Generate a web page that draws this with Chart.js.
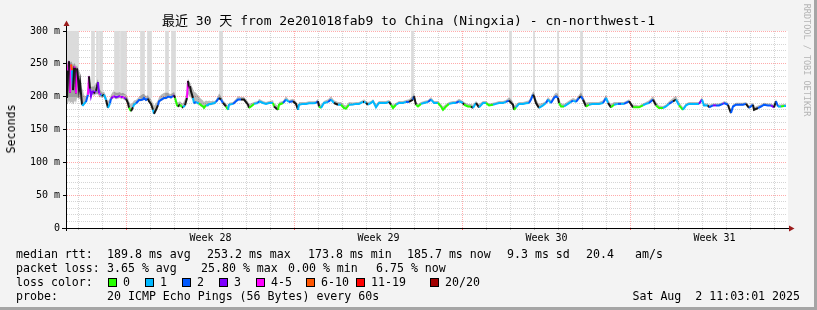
<!DOCTYPE html>
<html><head><meta charset="utf-8">
<script src="https://cdn.jsdelivr.net/npm/chart.js@4.4.0/dist/chart.umd.min.js"></script>
<style>
html,body{margin:0;padding:0;background:#f3f3f3;}
#frame{position:relative;width:817px;height:310px;background:#f3f3f3;overflow:hidden;}
#c{position:absolute;left:0;top:0;}
.t{position:absolute;font-family:"DejaVu Sans Mono","Noto Sans CJK SC",monospace;font-size:11.6px;line-height:14px;height:14px;white-space:pre;color:#000;}
.box{position:absolute;top:278px;width:7px;height:7px;border:1px solid #000;}
#shadeR{position:absolute;right:0;top:0;width:3px;height:310px;background:#a5a5a5;}
#shadeB{position:absolute;left:0;bottom:0;width:817px;height:3px;background:#a5a5a5;}
</style></head>
<body>
<div id="frame">
<canvas id="c" width="817" height="310"></canvas>
<div class="t" style="left:0;width:817px;text-align:center;top:13px;font-size:13px;line-height:16px;height:16px">最近 30 天 from 2e201018fab9 to China (Ningxia) - cn-northwest-1</div>
<div class="t" style="left:11px;top:129px;transform:translate(-50%,-50%) rotate(-90deg);">Seconds</div>
<div class="t" style="left:807px;top:60px;font-size:8.5px;line-height:10px;height:10px;color:#b4b4b4;transform:translate(-50%,-50%) rotate(90deg);">RRDTOOL / TOBI OETIKER</div>

<div class="t" style="left:16px;top:247px">median rtt:</div>
<div class="t" style="left:107px;top:247px">189.8 ms avg</div>
<div class="t" style="left:207px;top:247px">253.2 ms max</div>
<div class="t" style="left:308px;top:247px">173.8 ms min</div>
<div class="t" style="left:407px;top:247px">185.7 ms now</div>
<div class="t" style="left:507px;top:247px">9.3 ms sd</div>
<div class="t" style="left:586px;top:247px">20.4</div>
<div class="t" style="left:635px;top:247px">am/s</div>

<div class="t" style="left:16px;top:261px">packet loss:</div>
<div class="t" style="left:107px;top:261px">3.65 % avg</div>
<div class="t" style="left:201px;top:261px">25.80 % max</div>
<div class="t" style="left:288px;top:261px">0.00 % min</div>
<div class="t" style="left:376px;top:261px">6.75 % now</div>

<div class="t" style="left:16px;top:275px">loss color:</div>
<span class="box" style="left:108px;background:#26ff00"></span><div class="t" style="left:123px;top:275px">0</div>
<span class="box" style="left:145px;background:#00b8ff"></span><div class="t" style="left:160px;top:275px">1</div>
<span class="box" style="left:182px;background:#0059ff"></span><div class="t" style="left:197px;top:275px">2</div>
<span class="box" style="left:219px;background:#7e00ff"></span><div class="t" style="left:234px;top:275px">3</div>
<span class="box" style="left:256px;background:#ff00ff"></span><div class="t" style="left:271px;top:275px">4-5</div>
<span class="box" style="left:306px;background:#ff5500"></span><div class="t" style="left:321px;top:275px">6-10</div>
<span class="box" style="left:356px;background:#ff0000"></span><div class="t" style="left:371px;top:275px">11-19</div>
<span class="box" style="left:430px;background:#a10000"></span><div class="t" style="left:445px;top:275px">20/20</div>

<div class="t" style="left:16px;top:289px">probe:</div>
<div class="t" style="left:107px;top:289px">20 ICMP Echo Pings (56 Bytes) every 60s</div>
<div class="t" style="right:17px;top:289px">Sat Aug  2 11:03:01 2025</div>
<div id="shadeR"></div><div id="shadeB"></div>
</div>
<script>
// hours since start of the 30-day window (1 px per hour)
const hours = [
 0,1,2,3,4,5,6,7,8,9,
 10,11,12,13,14,15,16,17,18,19,
 20,21,22,23,24,25,26,27,28,29,
 30,31,32,33,34,35,37,39,41,43,
 44,46,47,49,51,53,54,56,57,59,
 61,62,64,66,67,69,71,72,74,76,
 77,79,81,82,84,86,87,89,91,92,
 94,96,97,99,101,102,104,106,107,108,
 110,111,113,115,116,118,120,121,122,123,
 124,126,127,129,131,132,134,136,137,139,
 141,142,144,146,147,149,
 152,154,156,159,161,162,166,169,171,174,
 177,181,182,184,187,191,192,196,199,202,
 206,207,211,212,216,219,222,226,229,231,
 232,236,239,242,246,249,251,252,254,257,
 261,264,267,271,274,277,279,282,286,289,
 292,296,297,299,301,304,306,309,312,316,
 319,322,324,326,329,332,336,339,342,346,
 347,349,351,354,357,361,364,367,371,374,
 376,379,382,386,389,392,396,397,401,404,
 406,409,412,416,419,422,426,429,432,436,
 439,442,446,447,449,452,456,459,462,464,
 466,467,469,472,476,479,481,484,487,489,
 491,492,494,497,501,504,506,509,512,514,
 516,519,522,526,529,532,536,539,541,544,
 547,551,554,557,561,562,566,569,572,576,
 579,582,586,589,592,596,599,602,606,609,
 612,616,619,622,626,629,632,635,637,641,
 642,646,649,652,656,657,661,662,664,666,
 669,672,676,679,682,686,687,691,694,697,
 701,704,707,709,711,714,717,719
];
// median round trip time, ms
const medianMs = [
 198,240,254,206,249,240,210,246,244,205,
 243,228,211,222,205,188,187,189,191,192,
 198,203,231,212,201,207,208,205,207,209,
 215,222,205,204,203,201,203,195,183,190,
 197,200,201,199,200,201,199,200,198,197,
 190,183,178,184,188,190,193,195,195,196,
 198,195,197,193,189,180,174,180,187,193,
 195,197,198,198,200,200,199,201,202,198,
 187,185,188,184,184,187,198,224,213,216,
 208,198,190,192,190,190,187,185,183,187,
 187,189,189,190,190,192,
 198,195.5,190.4,185,180,187.7,189,193,195.5,195.5,
 195.5,187.7,182.7,185,189,190.4,193,190.4,189,190.4,
 190.4,185,180,187.7,190.4,195.5,192,193,189,180,
 187.7,189,189,190,190,190.4,193,185,182.7,190.4,
 192,195.5,190.4,187.7,187.7,182.7,181.7,187.7,188,189,
 189,192,192,190.4,187.7,190.4,193,183.7,190.4,190.4,
 190.4,192,187.7,182.7,187.7,190.4,190.4,192,192,195.5,
 200.5,187.7,185,189,190.4,192,195.5,190.4,190.4,185,
 180,185,189,190.4,190.4,193,190.4,187.7,185,185,
 182.7,190.4,183.7,190.4,190.4,186.7,187.7,189,190.4,190.4,
 192,194,187.7,180,183.7,189,189,190,190.4,195.5,
 203,200.5,190.4,182.7,186.7,190.4,195.5,190.4,198,200.5,
 198,190.4,185,185,189,192,194,192,198,200.5,
 195.5,185,187.7,189,189,189,190.4,198,190.4,183.7,
 187.7,189,189,189,192,193,183.7,183.7,183.7,186.7,
 189,190.4,195.5,186.7,182.7,182.7,185,189,193,195.5,
 186.7,180,186.7,189,189,189,189,195.5,186.7,186.7,
 183.7,186.7,186.7,186.7,189,190.4,187.7,182.7,175,185,
 187.7,187.7,187.7,189,182.7,187.7,180,182.7,185,187.7,
 186.7,186.7,183.7,193,185,185,185.7,185.7
];
// loss colour class per point: 0..7 = legend classes, -1 = dense smoke (black)
const lossIdx = [
 3,-1,4,-1,4,5,1,-1,4,-1,
 4,-1,-1,-1,-1,-1,1,1,1,1,
 2,2,4,-1,3,3,3,3,-1,3,
 -1,-1,3,4,3,1,-1,1,-1,1,
 2,3,4,3,3,3,4,3,4,3,
 -1,-1,0,-1,1,1,2,2,2,2,
 2,2,2,-1,-1,-1,1,-1,-1,2,
 2,2,2,2,2,2,2,2,3,-1,
 0,0,-1,0,-1,1,-1,4,-1,4,
 -1,-1,1,2,1,1,0,0,0,0,
 1,1,1,1,1,1,
 2,-1,2,-1,0,1,1,2,2,2,
 -1,-1,-1,0,0,1,2,1,1,1,
 1,0,-1,0,0,2,1,2,-1,-1,
 1,1,1,1,1,1,2,-1,0,1,
 1,2,1,-1,1,0,0,0,1,1,
 1,1,-1,1,-1,1,1,1,1,1,
 1,1,-1,0,0,1,1,1,2,-1,
 2,-1,0,0,1,1,2,1,1,0,
 0,0,0,1,1,2,1,-1,0,0,
 -1,1,-1,1,1,0,0,1,1,1,
 1,2,-1,-1,0,1,1,1,1,2,
 2,-1,-1,-1,1,1,2,1,2,2,
 2,-1,0,0,1,1,2,1,2,-1,
 2,-1,0,1,1,1,1,2,1,-1,
 0,1,2,1,2,2,-1,0,0,0,
 1,1,2,-1,0,0,1,1,2,-1,
 1,0,1,1,1,1,1,3,1,1,
 -1,2,3,2,2,3,2,-1,-1,2,
 2,2,2,2,-1,2,-1,-1,2,2,
 2,2,3,-1,2,1,0,1
];
// smoke (ping spread) above / below the median, ms
const smokeAbove = [
 50,14,2,45,5,12,38,5,6,40,
 5,15,28,15,22,25,22,14,10,8,
 10,12,4,12,14,8,8,10,12,10,
 8,5,8,6,6,5,5,6,10,8,
 6,8,7,7,6,6,6,6,7,6,
 8,10,10,8,6,5,5,5,7,8,
 6,6,5,6,8,10,12,10,8,6,
 8,8,8,8,6,5,5,5,5,6,
 6,6,5,6,6,10,14,4,10,6,
 10,14,18,14,12,10,10,9,9,7,
 6,5,4,4,3,3,
 7,5,4,5,6,3,3,4,5,4,
 4,5,6,5,3,3,4,3,3,3,
 4,5,6,4,3,5,3,4,4,6,
 4,3,3,3,3,3,4,5,5,3,
 4,5,4,4,4,5,5,4,3,3,
 3,3,4,3,4,3,3,5,3,3,
 3,3,4,5,3,3,3,3,4,6,
 5,5,4,3,3,3,4,3,3,4,
 5,4,3,3,3,4,3,4,4,4,
 5,3,5,3,3,3,3,3,3,3,
 3,5,5,6,5,3,3,3,4,6,
 5,6,6,6,4,3,4,4,5,6,
 6,6,5,4,4,4,4,4,5,6,
 5,6,4,3,3,3,4,5,5,5,
 4,3,3,3,3,3,4,4,3,3,
 3,4,5,5,4,3,3,4,5,6,
 5,4,3,3,3,3,3,4,3,3,
 4,3,3,3,3,3,3,4,6,3,
 3,3,3,3,4,3,4,4,3,3,
 3,3,4,3,3,3,3,3
];
const smokeBelow = [
 10,50,60,16,58,48,22,55,50,15,
 45,30,15,25,12,2,1,2,2,2,
 3,4,25,8,4,5,5,4,5,5,
 12,18,6,5,4,3,3,2,2,2,
 3,3,3,3,3,3,3,3,3,3,
 2,2,2,2,2,2,2,2,2,2,
 2,2,2,2,2,2,2,2,2,2,
 2,2,2,2,2,2,2,2,2,2,
 2,2,2,2,2,2,3,20,12,15,
 10,4,2,2,2,2,2,2,2,2,
 2,2,2,2,2,2,
 1,1,1,1,1,1,1,1,1,1,
 1,1,1,1,1,1,1,1,1,1,
 1,1,1,1,1,1,1,1,1,1,
 1,1,1,1,1,1,1,1,1,1,
 1,1,1,1,1,1,1,1,1,1,
 1,1,1,1,1,1,1,1,1,1,
 1,1,1,1,1,1,1,1,1,1,
 1,1,1,1,1,1,1,1,1,1,
 1,1,1,1,1,1,1,1,1,1,
 1,1,1,1,1,1,1,1,1,1,
 1,1,1,1,1,1,1,1,1,1,
 1,1,1,1,1,1,1,1,1,1,
 1,1,1,1,1,1,1,1,1,1,
 1,1,1,1,1,1,1,1,1,1,
 1,1,1,1,1,1,1,1,1,1,
 1,1,1,1,1,1,1,1,1,1,
 1,1,1,1,1,1,1,1,1,1,
 1,1,1,1,1,1,1,1,1,1,
 1,1,1,1,1,1,1,1,1,1,
 1,1,1,1,1,1,1,1
];
// hours where the slowest pings went off the top of the graph
const spikeFrom = [0,3,6,25,30,33,48,54,56,74,81,99,105,153,345,443,467,491,514];
const spikeTo   = [2,5,11,27,31,35,52,56,59,77,84,101,108,155,346,444,467,491,515];
const spikeBase = [200,200,200,205,205,205,203,203,203,198,198,202,202,196,196,192,198,198,198];

const lossColors = ['#26ff00','#00b8ff','#0059ff','#7e00ff','#ff00ff','#ff5500','#ff0000','#a10000'];
const yGridMs = [0,10,20,30,40,50,60,70,80,90,100,110,120,130,140,150,160,170,180,190,200,210,220,230,240,250,260,270,280,290,300];
const dayLineAt = [11.5,35.5,59.5,83.5,107.5,131.5,155.5,179.5,203.5,227.5,251.5,275.5,299.5,323.5,347.5,371.5,395.5,419.5,443.5,467.5,491.5,515.5,539.5,563.5,587.5,611.5,635.5,659.5,683.5,707.5];
const weekStartAt = [59.5,227.5,395.5,563.5];
const weekLabelAt = [143.5,311.5,479.5,647.5];
const weekLabels = ['Week 28','Week 29','Week 30','Week 31'];

const colorOf = i => i < 0 ? '#151515' : lossColors[i];
const medianPts = hours.map((h,i)=>({x:h,y:medianMs[i]}));
const topPts = hours.map((h,i)=>({x:h,y:medianMs[i]+smokeAbove[i]}));
const botPts = hours.map((h,i)=>({x:h,y:medianMs[i]-smokeBelow[i]}));
const spikeBars = [];
spikeFrom.forEach((a,i)=>{ for(let h=a; h<=spikeTo[i]; h++) spikeBars.push({x:h,y:[spikeBase[i],300]}); });
const xTicks = dayLineAt.concat(weekLabelAt).sort((a,b)=>a-b);

const MONO = 'DejaVu Sans Mono';
const GRID_MINOR = 'rgba(128,128,128,0.33)';
const GRID_MAJOR = 'rgba(255,0,0,0.33)';
const rrdPlugin = {
  id:'rrd',
  beforeDraw(chart){
    const {ctx, chartArea:a} = chart;
    ctx.save(); ctx.fillStyle='#ffffff'; ctx.fillRect(a.left,a.top,a.right-a.left+1,a.bottom-a.top); ctx.restore();
  },
  afterDatasetsDraw(chart){
    const {ctx, chartArea:a} = chart;
    ctx.save();
    ctx.strokeStyle='#000'; ctx.lineWidth=1;
    ctx.beginPath();
    ctx.moveTo(a.left-5, a.bottom+0.5); ctx.lineTo(a.right+3, a.bottom+0.5);
    ctx.moveTo(a.left-0.5, a.bottom+3); ctx.lineTo(a.left-0.5, a.top-5);
    ctx.stroke();
    ctx.fillStyle='#9b1c1c';
    ctx.beginPath();
    ctx.moveTo(a.right+2, a.bottom-2.5); ctx.lineTo(a.right+7.5, a.bottom+0.5); ctx.lineTo(a.right+2, a.bottom+3.5); ctx.closePath(); ctx.fill();
    ctx.beginPath();
    ctx.moveTo(a.left-3.5, a.top-5); ctx.lineTo(a.left-0.5, a.top-10.5); ctx.lineTo(a.left+2.5, a.top-5); ctx.closePath(); ctx.fill();
    ctx.restore();
  }
};

new Chart(document.getElementById('c'), {
  type:'line',
  data:{ datasets:[
    { label:'median', data:medianPts, order:0, borderWidth:2, pointRadius:0, tension:0, fill:false,
      borderColor:'#151515',
      segment:{ borderColor: c => colorOf(lossIdx[c.p1DataIndex]) } },
    { label:'smokeTop', data:topPts, order:1, borderWidth:0, pointRadius:0, tension:0,
      backgroundColor:'rgba(0,0,0,0.27)', fill:'+1' },
    { label:'smokeBottom', data:botPts, order:1, borderWidth:0, pointRadius:0, tension:0, fill:false },
    { label:'spikes', type:'bar', data:spikeBars, order:3, barThickness:1, grouped:false,
      backgroundColor:'#dadada', borderWidth:0 }
  ]},
  options:{
    responsive:false, animation:false, events:[],
    layout:{ padding:{ left:0, right:30, top:31, bottom:66 } },
    plugins:{ legend:{display:false}, tooltip:{enabled:false}, title:{display:false} },
    scales:{
      x:{ type:'linear', min:0, max:720, offset:false,
        afterFit(s){ s.height = 16; },
        afterBuildTicks(s){ s.ticks = xTicks.map(v=>({value:v})); },
        ticks:{ autoSkip:false, maxRotation:0, minRotation:0, padding:2, color:'#000',
          font:{family:MONO, size:10},
          callback:(v)=>{ const k = weekLabelAt.indexOf(v); return k>=0 ? weekLabels[k] : ''; } },
        grid:{ offset:false, lineWidth:1, tickLength:2,
          color: c => { const v=c.tick && c.tick.value; if (weekLabelAt.includes(v)) return 'rgba(0,0,0,0)'; return weekStartAt.includes(v) ? GRID_MAJOR : GRID_MINOR; },
          tickColor: c => { const v=c.tick && c.tick.value; if (weekLabelAt.includes(v)) return 'rgba(0,0,0,0)'; return weekStartAt.includes(v) ? 'rgba(255,0,0,0.6)' : 'rgba(140,140,140,0.6)'; } },
        border:{ display:false, dash:[1,1] }
      },
      y:{ type:'linear', min:0, max:300,
        afterFit(s){ s.width = 67; },
        afterBuildTicks(s){ s.ticks = yGridMs.map(v=>({value:v})); },
        ticks:{ autoSkip:false, padding:3, color:'#000', font:{family:MONO, size:10},
          callback:(v)=> v%50===0 ? (v===0 ? '0' : v+' m') : '' },
        grid:{ lineWidth:1, tickLength:4,
          color: c => { const v=c.tick && c.tick.value; if (v===0) return 'rgba(0,0,0,0)'; return v%50===0 ? GRID_MAJOR : GRID_MINOR; },
          tickColor: c => { const v=c.tick && c.tick.value; return v%50===0 ? '#000' : 'rgba(0,0,0,0)'; } },
        border:{ display:false, dash:[1,1] }
      }
    }
  },
  plugins:[rrdPlugin]
});
</script>
</body></html>
